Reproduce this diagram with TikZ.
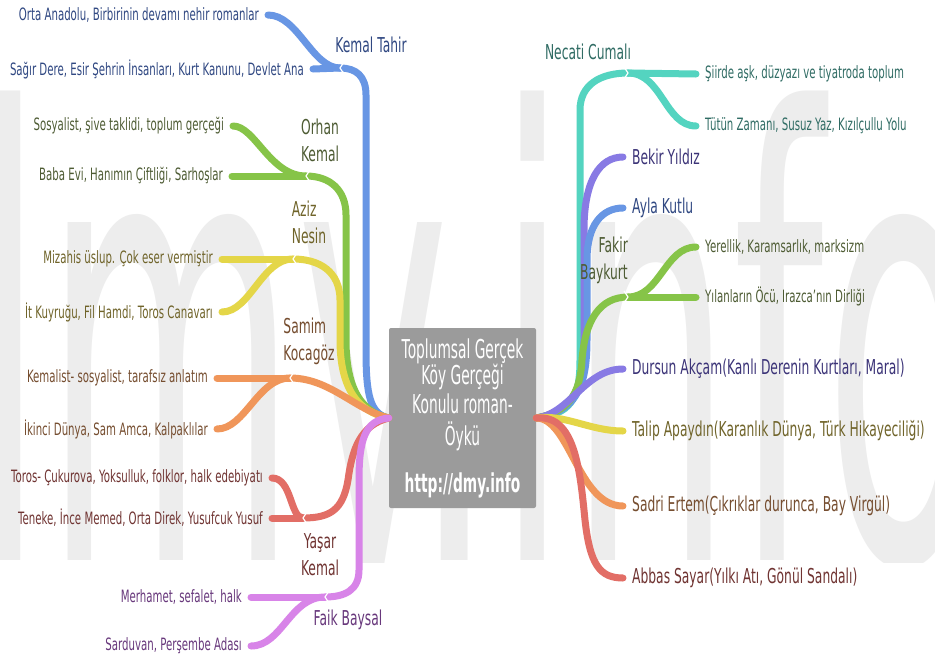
\documentclass[tikz,border=0pt]{standalone}
\usepackage{fontspec}
\setmainfont{DejaVu Sans}[FakeStretch=0.6]
\newfontfamily\rootfont{DejaVu Sans}[FakeStretch=0.53]
\newfontfamily\wmfont{DejaVu Sans}
\usepackage{tikz}
\usetikzlibrary{positioning, calc}
\definecolor{cblue}{RGB}{104,150,228}
\definecolor{cgreen}{RGB}{134,196,72}
\definecolor{cyellow}{RGB}{228,214,72}
\definecolor{corange}{RGB}{240,150,90}
\definecolor{cred}{RGB}{226,110,102}
\definecolor{cpink}{RGB}{216,132,232}
\definecolor{cteal}{RGB}{84,212,192}
\definecolor{cpurple}{RGB}{136,122,228}
\definecolor{tblue}{RGB}{48,72,130}
\definecolor{tgreen}{RGB}{78,92,52}
\definecolor{tyellow}{RGB}{112,100,42}
\definecolor{torange}{RGB}{118,78,48}
\definecolor{tred}{RGB}{112,52,50}
\definecolor{tpink}{RGB}{104,56,124}
\definecolor{tteal}{RGB}{48,108,100}
\definecolor{tpurple}{RGB}{60,52,120}
\definecolor{rootgray}{RGB}{155,155,155}
\definecolor{wmgray}{RGB}{237,237,237}
\tikzset{
  root/.style={rectangle, fill=rootgray, text=white, rounded corners=2pt,
    minimum width=147pt, minimum height=180pt, align=center,
    font=\rootfont\fontsize{26}{25}\selectfont},
  topic/.style={font=\fontsize{20.5}{27}\selectfont, align=center, inner sep=0pt},
  topicR/.style={font=\fontsize{20.5}{27}\selectfont, anchor=west,
    inner xsep=9pt, inner ysep=0pt},
  leafL/.style={anchor=east, font=\fontsize{17}{20}\selectfont,
    inner xsep=9pt, inner ysep=0pt},
  leafR/.style={anchor=west, font=\fontsize{17}{20}\selectfont,
    inner xsep=9pt, inner ysep=0pt},
  wmark/.style={anchor=base west, inner sep=0pt, text=wmgray,
    font=\fontsize{618}{618}\wmfont},
  branch/.style={line width=7pt, line cap=round},
  twig/.style={line width=7pt, line cap=round},
  notch/.style={white, line width=1.2pt}
}
\begin{document}
\begin{tikzpicture}[x=1pt, y=-1pt]
  \useasboundingbox[fill=white] (0,0) rectangle (935,662);
  % watermark
  \begin{scope}
    \clip (0,0) rectangle (935,562);
    \node[wmark] (wm) at (-121,560) {\scalebox{0.42}[1]{dmy.info}};
  \end{scope}

  \node[root] (root) at (462.5,418) {Toplumsal Gerçek\\Köy Gerçeği\\[3pt]Konulu roman-\\[7pt]Öykü\\[20pt]\textbf{http://dmy.info}};

  % left side
  \coordinate (kt) at (340,68);
  \coordinate (ok) at (306,176);
  \coordinate (an) at (293,259);
  \coordinate (sk) at (290,378);
  \coordinate (yk) at (303,518);
  \coordinate (fb) at (325,597);

  \node[topic, text=tblue] (ktl) at (371,45) {Kemal Tahir};
  \node[topic, text=tgreen] (okl) at (320,140) {Orhan\\Kemal};
  \node[topic, text=tyellow, align=left] (anl) at (309,222) {Aziz\\Nesin};
  \node[topic, text=torange, align=left] (skl) at (309,341) {Samim\\Kocagöz};
  \node[topic, text=tred] (ykl) at (320,555) {Yaşar\\Kemal};
  \node[topic, text=tpink] (fbl) at (348,620) {Faik Baysal};

  \node[leafL, text=tblue] (kta) at (268,15) {Orta Anadolu, Birbirinin devamı nehir romanlar};
  \node[leafL, text=tblue] (ktb) at (313,69) {Sağır Dere, Esir Şehrin İnsanları, Kurt Kanunu, Devlet Ana};
  \node[leafL, text=tgreen] (oka) at (233,126) {Sosyalist, şive taklidi, toplum gerçeği};
  \node[leafL, text=tgreen] (okb) at (232,176) {Baba Evi, Hanımın Çiftliği, Sarhoşlar};
  \node[leafL, text=tyellow] (ana) at (222,259) {Mizahis üslup. Çok eser vermiştir};
  \node[leafL, text=tyellow] (anb) at (222,312) {İt Kuyruğu, Fil Hamdi, Toros Canavarı};
  \node[leafL, text=torange] (ska) at (217,378) {Kemalist- sosyalist, tarafsız anlatım};
  \node[leafL, text=torange] (skb) at (217,429) {İkinci Dünya, Sam Amca, Kalpaklılar};
  \node[leafL, text=tred] (yka) at (272,478) {Toros- Çukurova, Yoksulluk, folklor, halk edebiyatı};
  \node[leafL, text=tred] (ykb) at (272,518) {Teneke, İnce Memed, Orta Direk, Yusufcuk Yusuf};
  \node[leafL, text=tpink] (fba) at (251,597) {Merhamet, sefalet, halk};
  \node[leafL, text=tpink] (fbb) at (251,646) {Sarduvan, Perşembe Adası};

  \draw[branch, cblue] (root.west) .. controls (370,414) and (366,395) .. (366,350) -- (366,95) .. controls (366,76) and (356,68) .. (kt);
  \draw[twig, cblue] (kt) -- (ktb.east);
  \draw[twig, cblue] (kt) .. controls (312,68) and (298,15) .. (kta.east);

  \draw[branch, cgreen] (root.west) .. controls (370,414) and (346,400) .. (346,340) -- (346,215) .. controls (346,190) and (330,176) .. (ok);
  \draw[twig, cgreen] (ok) -- (okb.east);
  \draw[twig, cgreen] (ok) .. controls (270,176) and (255,126) .. (oka.east);

  \draw[branch, cyellow] (root.west) .. controls (368,414) and (340,400) .. (340,340) -- (340,300) .. controls (340,272) and (320,259) .. (an);
  \draw[twig, cyellow] (an) -- (ana.east);
  \draw[twig, cyellow] (an) .. controls (262,259) and (250,312) .. (anb.east);

  \draw[branch, corange] (root.west) .. controls (355,410) and (330,378) .. (sk);
  \draw[twig, corange] (sk) -- (ska.east);
  \draw[twig, corange] (sk) .. controls (258,378) and (245,429) .. (skb.east);

  \draw[branch, cred] (root.west) .. controls (360,425) and (352,450) .. (348,480) .. controls (343,510) and (330,518) .. (yk);
  \draw[twig, cred] (yk) -- (ykb.east);
  \draw[twig, cred] (yk) .. controls (290,518) and (292,478) .. (yka.east);

  \draw[branch, cpink] (root.west) .. controls (365,420) and (359,440) .. (359,480) -- (359,570) .. controls (359,590) and (345,597) .. (fb);
  \draw[twig, cpink] (fb) -- (fba.east);
  \draw[twig, cpink] (fb) .. controls (290,597) and (282,646) .. (fbb.east);

  % right side
  \coordinate (nc) at (628,73);
  \coordinate (fk) at (628,297);

  \node[topic, text=tteal] (ncl) at (588,52) {Necati Cumalı};
  \node[topicR, text=tpurple] (be) at (623,157) {Bekir Yıldız};
  \node[topicR, text=tblue] (ay) at (623,208) {Ayla Kutlu};
  \node[topicR, text=tpurple] (du) at (623,369) {Dursun Akçam(Kanlı Derenin Kurtları, Maral)};
  \node[topicR, text=tyellow] (ta) at (623,431) {Talip Apaydın(Karanlık Dünya, Türk Hikayeciliği)};
  \node[topicR, text=torange] (sa) at (623,506) {Sadri Ertem(Çıkrıklar durunca, Bay Virgül)};
  \node[topicR, text=tred] (ab) at (623,578) {Abbas Sayar(Yılkı Atı, Gönül Sandalı)};

  \node[leafR, text=tteal] (nca) at (696,74) {Şiirde aşk, düzyazı ve tiyatroda toplum};
  \node[leafR, text=tteal] (ncb) at (696,126) {Tütün Zamanı, Susuz Yaz, Kızılçullu Yolu};
  \node[leafR, text=tgreen] (fka) at (696,247) {Yerellik, Karamsarlık, marksizm};
  \node[leafR, text=tgreen] (fkb) at (696,297) {Yılanların Öcü, Irazca'nın Dirliği};

  \draw[branch, cteal] (root.east) .. controls (570,414) and (580,400) .. (580,360) -- (580,110) .. controls (580,85) and (600,73) .. (nc);
  \draw[twig, cteal] (nc) -- (nca.west);
  \draw[twig, cteal] (nc) .. controls (662,73) and (665,126) .. (ncb.west);

  \draw[branch, cpurple] (root.east) .. controls (572,412) and (584,390) .. (584,340) -- (584,230) .. controls (584,180) and (600,157) .. (be.west);
  \draw[branch, cblue] (root.east) .. controls (574,412) and (587,390) .. (587,340) -- (587,260) .. controls (587,225) and (602,208) .. (ay.west);

  \draw[branch, cgreen] (root.east) .. controls (568,412) and (580,395) .. (582,360) .. controls (585,320) and (600,297) .. (fk);
  \draw[twig, cgreen] (fk) -- (fkb.west);
  \draw[twig, cgreen] (fk) .. controls (660,297) and (665,247) .. (fka.west);

  \draw[branch, cpurple] (root.east) .. controls (570,414) and (585,369) .. (du.west);
  \draw[branch, cyellow] (root.east) .. controls (565,414) and (590,431) .. (ta.west);
  \draw[branch, corange] (root.east) .. controls (570,418) and (578,506) .. (sa.west);
  \draw[branch, cred] (root.east) .. controls (575,414) and (580,470) .. (585,520) .. controls (590,565) and (600,578) .. (ab.west);

  \node[topic, text=tgreen, align=right, anchor=east] (fkl) at (628,260) {Fakir\\Baykurt};

  % junction notches
  \foreach \j in {kt, ok, an, sk, yk, fb}
    \draw[notch] ($(\j)+(4,-6)$) -- (\j) -- ($(\j)+(4,6)$);
  \foreach \j in {nc, fk}
    \draw[notch] ($(\j)+(-4,-6)$) -- (\j) -- ($(\j)+(-4,6)$);
\end{tikzpicture}
\end{document}
